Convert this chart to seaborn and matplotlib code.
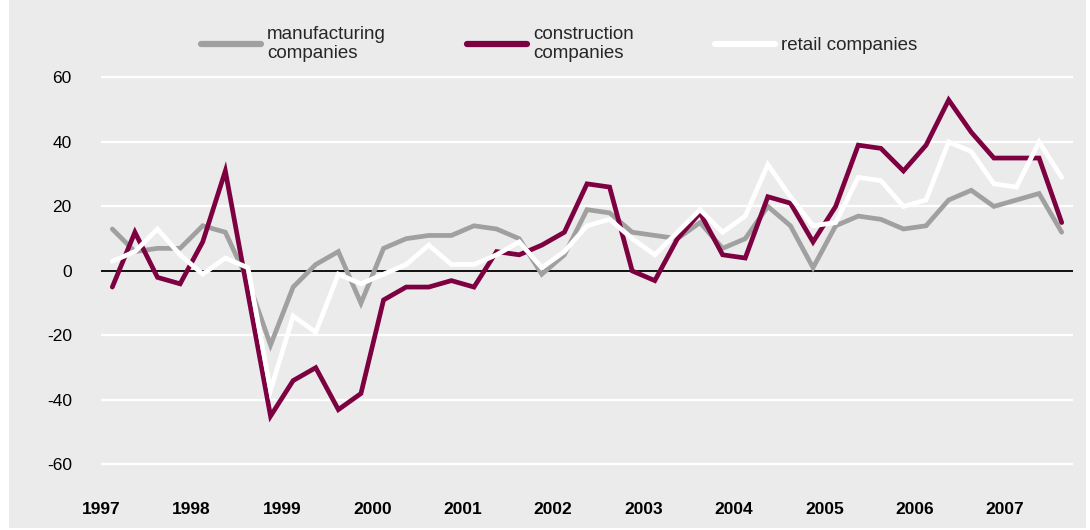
import numpy as np
import pandas as pd
import seaborn as sns
import matplotlib
matplotlib.use("Agg")
import matplotlib.pyplot as plt
from matplotlib.lines import Line2D
from matplotlib.patches import Rectangle

# Quarterly balance values, 1997 Q1 – 2007 Q3
manufacturing = [13, 6, 7, 7, 14, 12, -3, -23, -5, 2, 6, -10, 7, 10, 11, 11,
                 14, 13, 10, -1, 5, 19, 18, 12, 11, 10, 15, 7, 10, 20, 14, 1,
                 14, 17, 16, 13, 14, 22, 25, 20, 22, 24, 12]
construction = [-5, 12, -2, -4, 9, 31, -7, -45, -34, -30, -43, -38, -9, -5, -5, -3,
                -5, 6, 5, 8, 12, 27, 26, 0, -3, 10, 18, 5, 4, 23, 21, 9,
                20, 39, 38, 31, 39, 53, 43, 35, 35, 35, 15]
retail = [3, 6, 13, 5, -1, 4, 1, -37, -14, -19, -1, -4, -1, 2, 8, 2,
          2, 5, 9, 1, 6, 14, 16, 10, 5, 12, 19, 12, 17, 33, 23, 14,
          15, 29, 28, 20, 22, 40, 37, 27, 26, 40, 29]

series_names = ["manufacturing\ncompanies", "construction\ncompanies", "retail companies"]
series_colors = ["#a0a0a0", "#7d0040", "#ffffff"]
years = list(range(1997, 2008))
y_ticks = [-60, -40, -20, 0, 20, 40, 60]

# quarter midpoints expressed in fractional years
n = len(manufacturing)
t = 1997 + (np.arange(n) + 0.5) / 4

df = pd.DataFrame({
    "t": np.concatenate([t, t, t]),
    "value": manufacturing + construction + retail,
    "series": np.repeat(series_names, n),
})

sns.set_theme(style="white")
plt.rcParams["font.family"] = ["Liberation Sans", "DejaVu Sans"]

bg = "#ebebeb"
fig = plt.figure(figsize=(10.9, 5.3), dpi=100, facecolor="white")
fig.patches.append(Rectangle((9 / 1090, 2 / 530), 1077 / 1090, 528 / 530,
                             transform=fig.transFigure, facecolor=bg,
                             edgecolor="none", zorder=-10))

ax = fig.add_axes([101 / 1090, 1 - 488 / 530, 972 / 1090, 478 / 530])
ax.set_facecolor("none")

for yv in y_ticks:
    if yv != 0:
        ax.axhline(yv, color="white", lw=1.6, zorder=1)
ax.axhline(0, color="black", lw=1.3, zorder=2)

sns.lineplot(data=df, x="t", y="value", hue="series", hue_order=series_names,
             palette=series_colors, linewidth=3.4, legend=False, ax=ax, zorder=3)
for line in ax.get_lines():
    line.set_solid_joinstyle("miter")

ax.set_xlim(1997, 2007.75)
ax.set_ylim(-67.3, 80.9)
ax.set_xticks(years)
ax.set_xticklabels([str(y) for y in years], fontsize=12.5, fontweight="bold", color="black")
ax.set_yticks(y_ticks)
ax.set_yticklabels([str(v) for v in y_ticks], fontsize=12.5, color="black")
ax.tick_params(axis="x", length=0, pad=10)
ax.tick_params(axis="y", length=0, pad=21)
ax.set_xlabel("")
ax.set_ylabel("")
ax.grid(False)
for s in ax.spines.values():
    s.set_visible(False)

handles = [Line2D([0], [0], color=c, lw=4.5, solid_capstyle="round") for c in series_colors]
leg = fig.legend(handles, series_names, loc="center", bbox_to_anchor=(559 / 1090, 1 - 44 / 530),
                 ncol=3, frameon=False, fontsize=13.5, handlelength=3.2, handletextpad=0.35,
                 columnspacing=4.3, labelspacing=0.2)
for txt in leg.get_texts():
    txt.set_linespacing(1.15)

fig.savefig("out.png", dpi=100, facecolor="white")
